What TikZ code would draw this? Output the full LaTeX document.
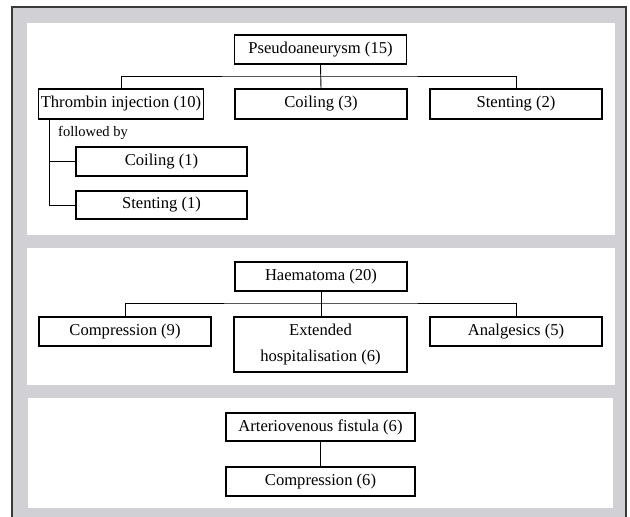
\documentclass[tikz,border=0pt]{standalone}
\usepackage{fontspec}
\setmainfont{Liberation Serif}
\usetikzlibrary{positioning,calc}
\definecolor{frameg}{HTML}{D1D0D4}
\definecolor{framee}{HTML}{3A3A3A}
\tikzset{
  box/.style={draw=black,line width=1.1pt,fill=white,inner sep=2pt,align=center,
    minimum height=29pt,minimum width=172pt,font=\fontsize{16.6}{26}\selectfont},
  link/.style={draw=black,line width=0.9pt},
  panel/.style={fill=white},
  note/.style={font=\fontsize{14.5}{17}\selectfont,inner sep=0pt,anchor=west},
}
\begin{document}
\begin{tikzpicture}[x=1pt,y=-1pt]
  \useasboundingbox (0,0) rectangle (630,517);
  \clip (0,0) rectangle (630,517);
  % grey frame and the three white panels
  \draw[fill=frameg,draw=framee,line width=1.2pt] (12,7) rectangle (626,530);
  \fill[panel] (27,23) rectangle (615,235);
  \fill[panel] (27,248) rectangle (615,385);
  \fill[panel] (28,398) rectangle (613,508);
  % pseudoaneurysm
  \node[box] (pa) at (320.5,49.5) {Pseudoaneurysm (15)};
  \node[box,minimum width=164pt,minimum height=30pt] (thr) at (121,104) {Thrombin injection (10)};
  \node[box,minimum height=30pt] (coil3) at (321,104) {Coiling (3)};
  \node[box,minimum height=30pt] (sten2) at (516,104) {Stenting (2)};
  \node[box,minimum width=171pt] (coil1) at (161.5,161.5) {Coiling (1)};
  \node[box,minimum width=171pt,minimum height=28pt] (sten1) at (161.5,205) {Stenting (1)};
  \node[note] (fb) at (58,133) {followed by};
  \coordinate (bus1) at (320.5,76);
  \coordinate (tr) at ([xshift=11pt]thr.south west);
  \draw[link] (pa.south) -- (coil3.north);
  \draw[link] (thr.north) |- (bus1) -| (sten2.north);
  \draw[link] (tr) |- (coil1.west);
  \draw[link] (tr) |- (sten1.west);
  % haematoma
  \node[box] (hae) at (321,276.5) {Haematoma (20)};
  \node[box] (comp9) at (125,331.5) {Compression (9)};
  \node[box,minimum width=173pt,minimum height=55pt] (ext) at (320.5,344.5) {Extended\\hospitalisation (6)};
  \node[box] (analg) at (516,331.5) {Analgesics (5)};
  \coordinate (bus2) at (321,303);
  \draw[link] (hae.south) -- (hae.south |- ext.north);
  \draw[link] (comp9.north) |- (bus2) -| (analg.north);
  % arteriovenous fistula
  \node[box,minimum width=189pt,minimum height=28pt] (avf) at (320.5,427) {Arteriovenous fistula (6)};
  \node[box,minimum width=189pt] (comp6) at (320.5,481.5) {Compression (6)};
  \draw[link] (avf) -- (comp6);
\end{tikzpicture}
\end{document}
